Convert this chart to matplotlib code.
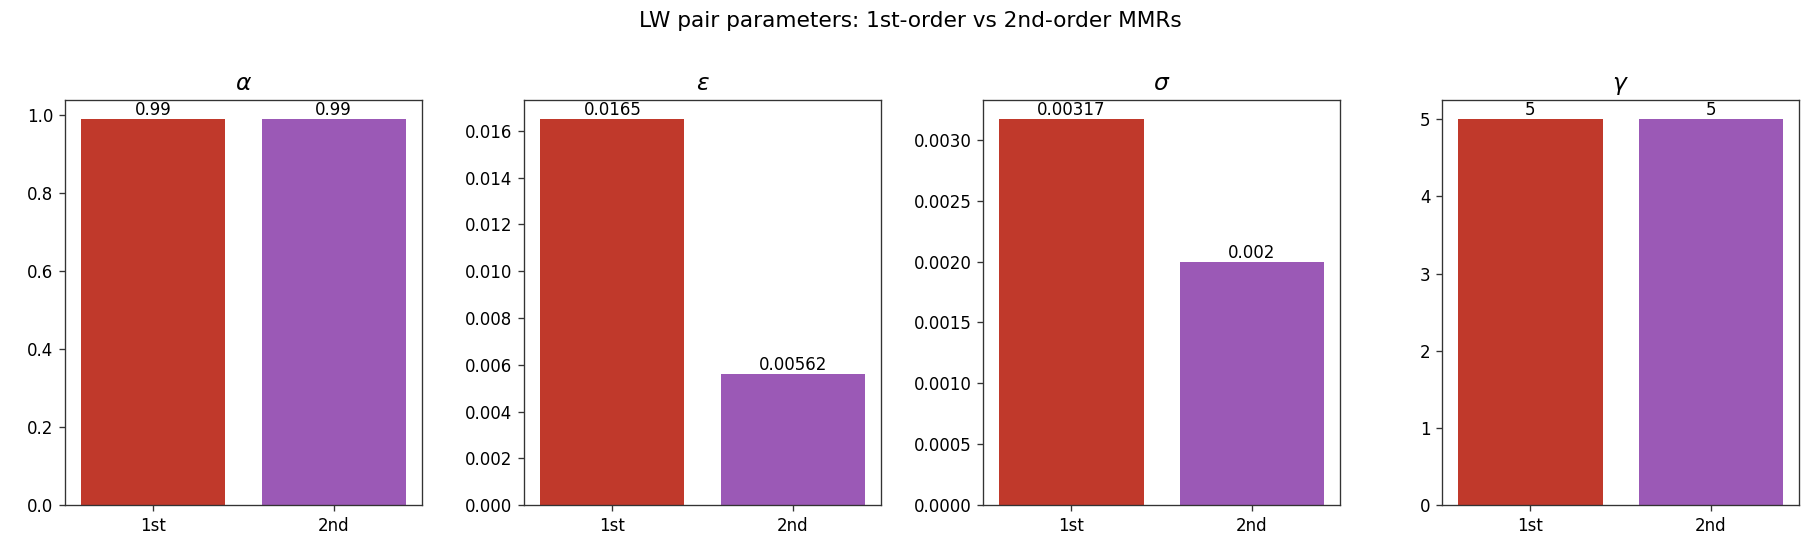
import matplotlib
matplotlib.use("Agg")
import matplotlib.pyplot as plt

orders = ["1st", "2nd"]
params = [r"$\alpha$", r"$\varepsilon$", r"$\sigma$", r"$\gamma$"]
first_order = [0.99, 0.0165, 0.00317, 5]
second_order = [0.99, 0.00562, 0.002, 5]
labels_1st = ["0.99", "0.0165", "0.00317", "5"]
labels_2nd = ["0.99", "0.00562", "0.002", "5"]
colors = ["#c0392b", "#9b59b6"]

plt.rcParams["axes.edgecolor"] = "#333333"
plt.rcParams["xtick.color"] = "#333333"
plt.rcParams["ytick.color"] = "#333333"
plt.rcParams["xtick.labelcolor"] = "black"
plt.rcParams["ytick.labelcolor"] = "black"

fig, axes = plt.subplots(1, 4, figsize=(18.2 / 1.2, 5.6 / 1.2), dpi=120)

for i, ax in enumerate(axes):
    vals = [first_order[i], second_order[i]]
    bars = ax.bar(orders, vals, color=colors)
    ax.bar_label(bars, labels=[labels_1st[i], labels_2nd[i]], fontsize=10)
    ax.set_title(params[i], fontsize=14)

fig.suptitle("LW pair parameters: 1st-order vs 2nd-order MMRs", fontsize=13)
fig.subplots_adjust(left=0.0357, right=0.9885, top=0.8214, bottom=0.0982,
                    wspace=0.2857)
fig.savefig("out.png", dpi=120)
